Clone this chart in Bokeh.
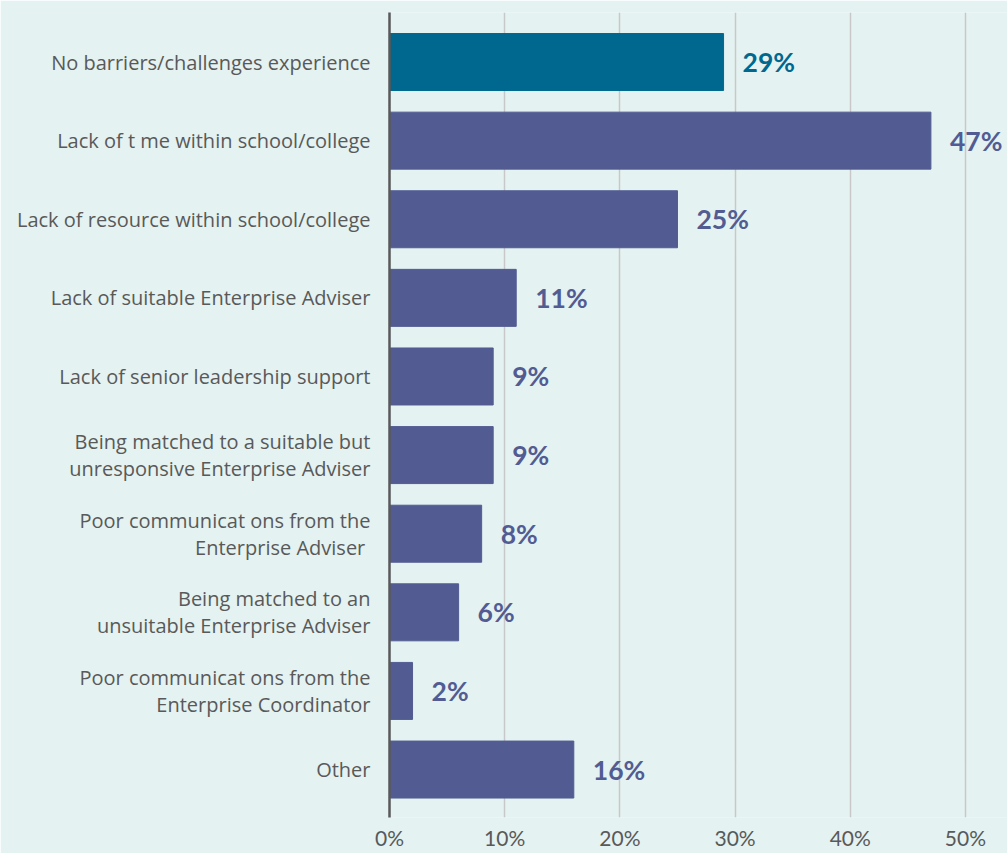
from bokeh.plotting import figure
from bokeh.models import Range1d, FixedTicker, ColumnDataSource, LabelSet, NumeralTickFormatter
from bokeh.core.properties import value
from bokeh.embed import file_html
from bokeh.resources import INLINE

categories = [
    "No barriers/challenges experience",
    "Lack of t me within school/college",
    "Lack of resource within school/college",
    "Lack of suitable Enterprise Adviser",
    "Lack of senior leadership support",
    "Being matched to a suitable but\nunresponsive Enterprise Adviser",
    "Poor communicat ons from the\nEnterprise Adviser ",
    "Being matched to an\nunsuitable Enterprise Adviser",
    "Poor communicat ons from the\nEnterprise Coordinator",
    "Other",
]
values = [29, 47, 25, 11, 9, 9, 8, 6, 2, 16]
value_labels = ["29%", "47%", "25%", "11%", "9%", "9%", "8%", "6%", "2%", "16%"]
x_ticks = [0, 0.1, 0.2, 0.3, 0.4, 0.5]

TEAL = "#00688f"
SLATE = "#525c92"
BG = "#e4f2f1"

colors = [TEAL] + [SLATE] * (len(values) - 1)
pos = list(range(len(categories)))
src = ColumnDataSource(dict(
    y=pos,
    v=[x / 100 for x in values],
    c=colors,
    lab=value_labels,
))

p = figure(width=1007, height=853, output_backend="svg", toolbar_location=None,
           x_range=Range1d(0, 0.5365), y_range=Range1d(9.61, -0.63),
           min_border_left=389, min_border_right=0, min_border_top=12, min_border_bottom=36)
p.background_fill_color = BG
p.border_fill_color = BG
p.outline_line_color = None

p.hbar(y="y", right="v", left=0, height=0.725, color="c", source=src)

labels = LabelSet(x="v", y="y", text="lab", source=src, x_offset=19, y_offset=0,
                  text_color="c", text_font=value("Lato"), text_font_style="bold",
                  text_font_size="26.5px", text_baseline="middle", text_align="left")
p.add_layout(labels)

# x axis
p.xaxis.ticker = FixedTicker(ticks=x_ticks)
p.xaxis.formatter = NumeralTickFormatter(format="0%")
p.xaxis.axis_line_color = None
p.xaxis.major_tick_line_color = None
p.xaxis.major_tick_out = 0
p.xaxis.major_tick_in = 0
p.xaxis.minor_tick_line_color = None
p.xaxis.major_label_text_font = "Lato"
p.xaxis.major_label_text_font_size = "21px"
p.xaxis.major_label_text_color = "#595959"
p.xaxis.major_label_standoff = 7

# y axis
p.yaxis.ticker = FixedTicker(ticks=pos)
p.yaxis.major_label_overrides = {i: c for i, c in enumerate(categories)}
p.yaxis.axis_line_color = "#595959"
p.yaxis.axis_line_width = 2.5
p.yaxis.major_tick_line_color = None
p.yaxis.major_tick_out = 0
p.yaxis.major_tick_in = 0
p.yaxis.minor_tick_line_color = None
p.yaxis.major_label_text_font = "Open Sans"
p.yaxis.major_label_text_font_size = "20px"
p.yaxis.major_label_text_color = "#595959"
p.yaxis.major_label_text_line_height = 1.0
p.yaxis.major_label_standoff = 19
p.yaxis.major_label_text_align = "right"

p.xgrid.ticker = FixedTicker(ticks=x_ticks)
p.xgrid.grid_line_color = "#c8c8c8"
p.xgrid.grid_line_width = 1.5
p.ygrid.grid_line_color = None

open("out.html", "w").write(file_html(p, INLINE))
